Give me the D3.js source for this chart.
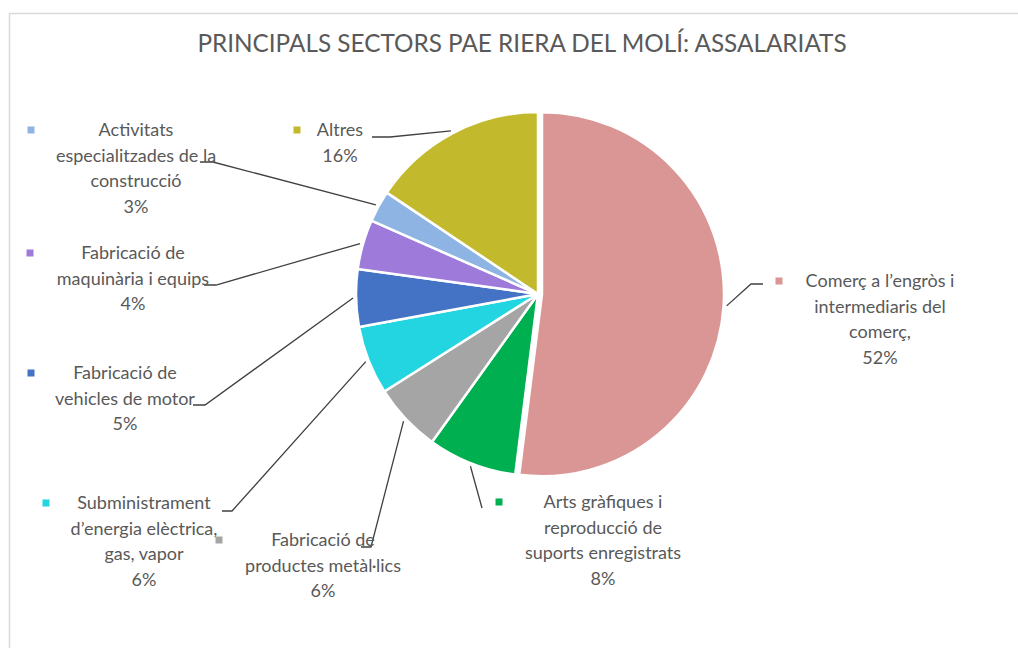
<!DOCTYPE html>
<html>
<head>
<meta charset="utf-8">
<script src="https://cdn.jsdelivr.net/npm/d3@7"></script>
<style>
  body { margin: 0; background: #fff; }
  svg { display: block; font-family: Lato, "Open Sans", sans-serif; }
</style>
</head>
<body>
<div id="chart"></div>
<script>
// chart data
const sectors = [
  "Comerç a l’engròs i intermediaris del comerç",
  "Arts gràfiques i reproducció de suports enregistrats",
  "Fabricació de productes metàl·lics",
  "Subministrament d’energia elèctrica, gas, vapor",
  "Fabricació de vehicles de motor",
  "Fabricació de maquinària i equips",
  "Activitats especialitzades de la construcció",
  "Altres"
];
const shares = [52.0, 7.9, 6.1, 6.1, 5.1, 4.4, 2.8, 15.6];
const labelLines = [
  ["Comerç a l’engròs i", "intermediaris del", "comerç,"],
  ["Arts gràfiques i", "reproducció de", "suports enregistrats"],
  ["Fabricació de", "productes metàl·lics"],
  ["Subministrament", "d’energia elèctrica,", "gas, vapor"],
  ["Fabricació de", "vehicles de motor"],
  ["Fabricació de", "maquinària i equips"],
  ["Activitats", "especialitzades de la", "construcció"],
  ["Altres"]
];
const colors = ["#D99694", "#00B050", "#A5A5A5", "#23D5E0", "#4472C4", "#9E7ADB", "#8DB4E2", "#C2BA2C"];
const title = "PRINCIPALS SECTORS PAE RIERA DEL MOLÍ: ASSALARIATS";

// label placement (layout only)
const labelPos = [
  { cx: 880, y: 281, mx: 779, path: [[751, 284], [763, 284]] },
  { cx: 603, y: 502, mx: 499, path: [[482, 508]] },
  { cx: 323, y: 540, mx: 219, path: [[371, 547], [361, 547]] },
  { cx: 144, y: 503, mx: 46,  path: [[232, 511], [222, 511]] },
  { cx: 125, y: 373, mx: 31,  path: [[205, 405], [193, 405]] },
  { cx: 133, y: 253, mx: 30,  path: [[216, 285], [204, 285]] },
  { cx: 136, y: 130, mx: 31,  path: [[213, 162], [200, 162]] },
  { cx: 340, y: 130, mx: 297, path: [[390, 137], [372, 137]] }
];

const W = 1018, H = 648;
const cx = 538, cy = 294, r = 182;
const lineH = 25.5;
const textColor = "#595959";

const svg = d3.select("#chart").append("svg")
    .attr("width", W)
    .attr("height", H);

// chart frame
svg.append("rect")
    .attr("x", 9.5)
    .attr("y", 13.5)
    .attr("width", W + 20)
    .attr("height", H + 20)
    .attr("fill", "#fff")
    .attr("stroke", "#D9D9D9")
    .attr("stroke-width", 1.5);

svg.append("text")
    .attr("x", 522)
    .attr("y", 43)
    .attr("dy", "0.35em")
    .attr("text-anchor", "middle")
    .attr("fill", textColor)
    .style("font-size", "24.3px")
    .text(title);

const pie = d3.pie().sort(null).value(d => d);
const arcs = pie(shares);
const arc = d3.arc().innerRadius(0).outerRadius(r);
const edge = d3.arc().innerRadius(r + 3).outerRadius(r + 3);

// first slice is pulled out a little
function offset(d, i) {
  if (i !== 0) return [0, 0];
  const a = (d.startAngle + d.endAngle) / 2;
  return [4 * Math.sin(a), -4 * Math.cos(a)];
}

const g = svg.append("g").attr("transform", `translate(${cx},${cy})`);

g.selectAll("path.slice")
  .data(arcs)
  .join("path")
    .attr("class", "slice")
    .attr("transform", (d, i) => `translate(${offset(d, i)})`)
    .attr("d", arc)
    .attr("fill", (d, i) => colors[i])
    .attr("stroke", "#fff")
    .attr("stroke-width", 2.5)
    .attr("stroke-linejoin", "round");

// leader lines
const line = d3.line();
svg.selectAll("path.leader")
  .data(arcs)
  .join("path")
    .attr("class", "leader")
    .attr("d", (d, i) => {
      const c = edge.centroid(d);
      const o = offset(d, i);
      const start = [cx + c[0] + o[0], cy + c[1] + o[1]];
      return line([start].concat(labelPos[i].path));
    })
    .attr("fill", "none")
    .attr("stroke", "#404040")
    .attr("stroke-width", 1.3);

// labels
const labels = svg.selectAll("g.label")
  .data(arcs)
  .join("g")
    .attr("class", "label");

labels.append("rect")
    .attr("x", (d, i) => labelPos[i].mx - 3.5)
    .attr("y", (d, i) => labelPos[i].y - 3.5)
    .attr("width", 7)
    .attr("height", 7)
    .attr("fill", (d, i) => colors[i]);

labels.append("text")
    .attr("text-anchor", "middle")
    .attr("fill", textColor)
    .style("font-size", "18px")
    .each(function (d, i) {
      const rows = labelLines[i].concat([Math.round(d.value) + "%"]);
      d3.select(this).selectAll("tspan")
        .data(rows)
        .join("tspan")
          .attr("x", labelPos[i].cx)
          .attr("y", (t, k) => labelPos[i].y + k * lineH)
          .attr("dy", "0.35em")
          .text(t => t);
    });
</script>
</body>
</html>
